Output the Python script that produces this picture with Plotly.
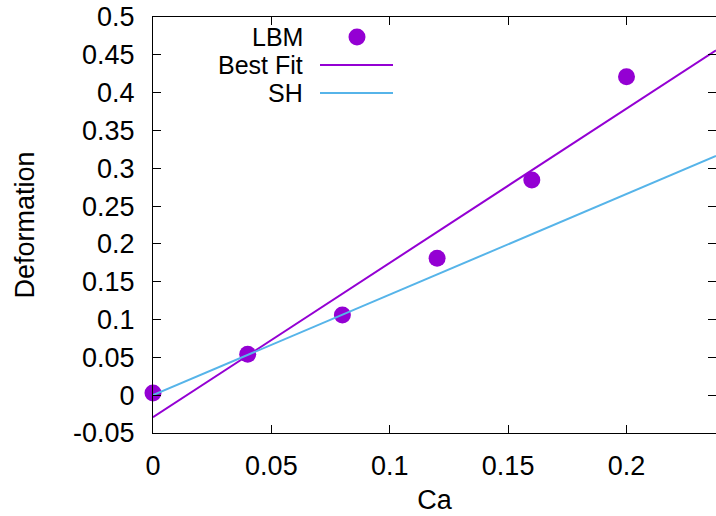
import numpy as np
import plotly.graph_objects as go

# Measured deformation from the lattice Boltzmann runs
ca = [0.0, 0.04, 0.08, 0.12, 0.16, 0.20]
deformation = [0.003, 0.054, 0.106, 0.181, 0.2845, 0.421]

# Small-deformation (SH) theory: D proportional to Ca
sh_slope = 1.33

x_range = [0.0, 0.2378]
y_range = [-0.05, 0.5]
x_ticks = [0.0, 0.05, 0.1, 0.15, 0.2]
x_tick_labels = ["0", "0.05", "0.1", "0.15", "0.2"]
y_ticks = [-0.05, 0.0, 0.05, 0.1, 0.15, 0.2, 0.25, 0.3, 0.35, 0.4, 0.45, 0.5]
y_tick_labels = ["-0.05", "0", "0.05", "0.1", "0.15", "0.2",
                 "0.25", "0.3", "0.35", "0.4", "0.45", "0.5"]

series_names = ["LBM", "Best Fit", "SH"]

PURPLE = "#9400D3"
BLUE = "#56B4E9"
FONT = "Liberation Sans, Arial, sans-serif"
FS = 27
KEY_FS = 25

# Least-squares line through the LBM points
slope, intercept = np.polyfit(ca, deformation, 1)
x_line = np.array(x_range)
fit_line = slope * x_line + intercept
sh_line = sh_slope * x_line

W, H = 716, 516
ML, MR, MT, MB = 153, 0, 17, 83

fig = go.Figure()
fig.add_trace(go.Scatter(x=ca, y=deformation, mode="markers", name=series_names[0],
                         marker=dict(color=PURPLE, size=17, line=dict(width=0)),
                         cliponaxis=False))
fig.add_trace(go.Scatter(x=x_line, y=fit_line, mode="lines", name=series_names[1],
                         line=dict(color=PURPLE, width=2)))
fig.add_trace(go.Scatter(x=x_line, y=sh_line, mode="lines", name=series_names[2],
                         line=dict(color=BLUE, width=2)))

axis_common = dict(showgrid=False, zeroline=False, showline=True, linecolor="black",
                   linewidth=1, mirror="ticks", ticks="inside", ticklen=8,
                   tickwidth=1, tickcolor="black",
                   tickfont=dict(family=FONT, size=FS, color="black"))

fig.update_xaxes(range=x_range, tickvals=x_ticks, ticktext=x_tick_labels,
                 title=dict(text="Ca", font=dict(family=FONT, size=FS, color="black"),
                            standoff=9),
                 ticklabelstandoff=9, **axis_common)
fig.update_yaxes(range=y_range, tickvals=y_ticks, ticktext=y_tick_labels,
                 title=dict(text="Deformation", font=dict(family=FONT, size=FS, color="black"),
                            standoff=30),
                 ticklabelstandoff=12, **axis_common)

# Key in the upper left: labels right-aligned, samples to their right
pw, ph = W - ML - MR, H - MT - MB


def px(xp):
    return (xp - ML) / pw


def py(yp):
    return (H - MB - yp) / ph


key_rows = [37, 65, 93]
for name, yrow in zip(series_names, key_rows):
    fig.add_annotation(x=px(304), y=py(yrow), xref="paper", yref="paper",
                       text=name, showarrow=False, xanchor="right", yanchor="middle",
                       borderpad=0, font=dict(family=FONT, size=KEY_FS, color="black"))
r = 8.5
fig.add_shape(type="circle", xref="paper", yref="paper",
              x0=px(357 - r), x1=px(357 + r), y0=py(key_rows[0] + r), y1=py(key_rows[0] - r),
              fillcolor=PURPLE, line=dict(width=0))
fig.add_shape(type="line", xref="paper", yref="paper",
              x0=px(320), x1=px(393), y0=py(key_rows[1]), y1=py(key_rows[1]),
              line=dict(color=PURPLE, width=2))
fig.add_shape(type="line", xref="paper", yref="paper",
              x0=px(320), x1=px(393), y0=py(key_rows[2]), y1=py(key_rows[2]),
              line=dict(color=BLUE, width=2))

fig.update_layout(width=W, height=H, margin=dict(l=ML, r=MR, t=MT, b=MB),
                  paper_bgcolor="white", plot_bgcolor="white", showlegend=False)

fig.write_html("out.html")
